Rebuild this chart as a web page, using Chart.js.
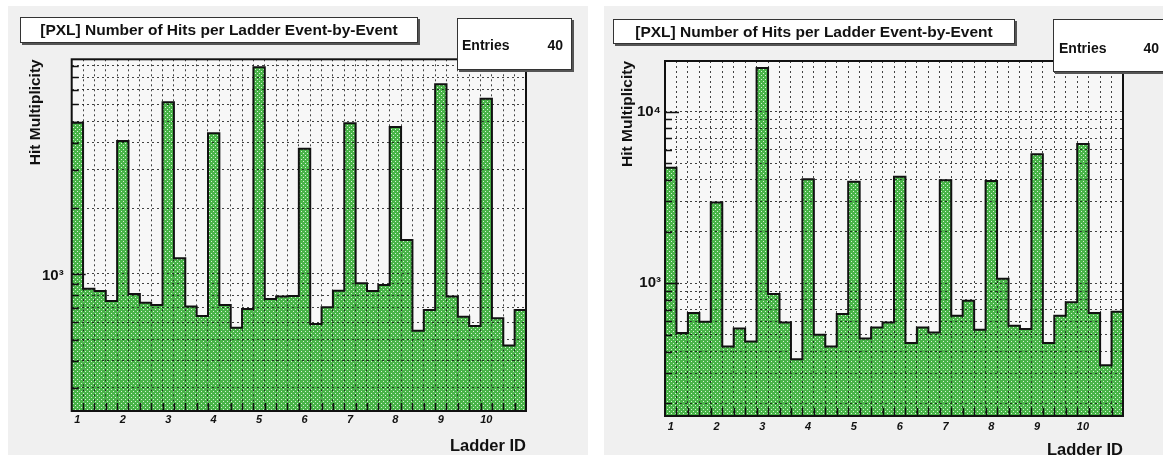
<!DOCTYPE html>
<html><head><meta charset="utf-8">
<script src="https://cdn.jsdelivr.net/npm/chart.js@4.4.0/dist/chart.umd.min.js"></script>
<style>
html,body{margin:0;padding:0;background:#fff;}
body{width:1163px;height:455px;overflow:hidden;position:relative;font-family:'Liberation Sans',Arial,Helvetica,sans-serif;}
.panel{position:absolute;background:#f0f0f0;}
.panel canvas{position:absolute;left:0;top:0;}
.tbox{position:absolute;box-sizing:border-box;background:#fff;border:1px solid #333;box-shadow:2px 2px 0 #555;font-weight:bold;color:#111;white-space:nowrap;overflow:visible;}
.title{text-align:center;font-size:15.5px;}
.stat span{position:absolute;font-size:14px;line-height:16px;}
</style></head><body>
<div class="panel" style="left:8px;top:6px;width:580px;height:449px;"><canvas id="c1" width="580" height="449"></canvas></div>
<div class="panel" style="left:604px;top:6px;width:559px;height:449px;"><canvas id="c2" width="559" height="449"></canvas></div>

<div class="tbox title" style="left:20px;top:17px;width:398px;height:26px;line-height:24px;">[PXL] Number of Hits per Ladder Event-by-Event</div>
<div class="tbox stat" style="left:457px;top:18px;width:115px;height:52px;"><span style="left:4px;top:18px;">Entries</span><span style="right:8px;top:18px;">40</span></div>

<div class="tbox title" style="left:613px;top:19px;width:402px;height:25px;line-height:23px;">[PXL] Number of Hits per Ladder Event-by-Event</div>
<div class="tbox stat" style="left:1053px;top:19px;width:115px;height:53px;"><span style="left:5px;top:20px;">Entries</span><span style="right:8px;top:20px;">40</span></div>

<script>
// ---- data ----
const ladderLabels = ['1','2','3','4','5','6','7','8','9','10'];
const binsPerLadder = 4;
const hitsLeft = [4943, 856, 836, 752, 4074, 810, 738, 721, 6133, 1181, 708, 642, 4419, 721, 567, 691,
                  8877, 768, 787, 793, 3757, 590, 704, 838, 4912, 906, 836, 890, 4724, 1432, 549, 684,
                  7417, 787, 637, 577, 6370, 626, 469, 684];
const hitsRight = [4705, 513, 671, 597, 2953, 428, 545, 458, 17940, 867, 591, 361, 4040, 501, 428, 662,
                   3897, 477, 553, 591, 4169, 448, 553, 517, 3987, 647, 792, 536, 3948, 1061, 566, 541,
                   5636, 448, 647, 774, 6474, 671, 333, 683];
const yTicksLeft = [300,400,500,600,700,800,900,1000,2000,3000,4000,5000,6000,7000,8000,9000];
const yTicksRight = [200,300,400,500,600,700,800,900,1000,2000,3000,4000,5000,6000,7000,8000,9000,10000];
const yRangeLeft = [235, 9660];
const yRangeRight = [168.5, 19720];
const tickText = {1000:'10\u00B3', 10000:'10\u2074'};

const FONT = "'Liberation Sans', Arial, Helvetica, sans-serif";
const GRID = 'rgba(20,20,20,0.8)';
const PLOT_BG = '#f7f7f7';

function isPow10(v){ const l = Math.log10(v); return Math.abs(l - Math.round(l)) < 1e-9; }

function greenPattern(ctx){
  const c = document.createElement('canvas'); c.width = 4; c.height = 4;
  const g = c.getContext('2d');
  g.fillStyle = 'rgb(72,180,72)'; g.fillRect(0,0,4,4);
  g.fillStyle = 'rgb(215,242,215)'; g.fillRect(1,1,1,1); g.fillRect(3,3,1,1);
  return ctx.createPattern(c, 'repeat');
}

const framePlugin = {
  id: 'rootFrame',
  beforeDraw(chart){
    const a = chart.chartArea, c = chart.ctx;
    c.save(); c.fillStyle = PLOT_BG; c.fillRect(a.left, a.top, a.right - a.left, a.bottom - a.top); c.restore();
  },
  afterDraw(chart){
    const a = chart.chartArea, c = chart.ctx, xs = chart.scales.x, ys = chart.scales.y;
    c.save(); c.strokeStyle = '#111'; c.lineWidth = 1.5;
    c.beginPath();
    xs.ticks.forEach(t => {
      if (Number.isInteger(t.value) && t.value > 0 && t.value < xs.max) {
        const px = Math.round(xs.getPixelForValue(t.value)) + 0.5;
        c.moveTo(px, a.bottom); c.lineTo(px, a.bottom - 8);
      }
    });
    ys.ticks.forEach(t => {
      const py = Math.round(ys.getPixelForValue(t.value)) + 0.5;
      const len = isPow10(t.value) ? 14 : 7;
      c.moveTo(a.left, py); c.lineTo(a.left + len, py);
    });
    c.stroke();
    c.lineWidth = 2;
    c.strokeRect(a.left, a.top, a.right - a.left, a.bottom - a.top);
    c.restore();
  }
};

function makeChart(id, hits, yRange, yTicks, g){
  const canvas = document.getElementById(id);
  const ctx = canvas.getContext('2d');
  const nBins = hits.length;
  const pts = hits.map((v, i) => ({x: i, y: v})).concat([{x: nBins, y: hits[nBins - 1]}]);
  return new Chart(ctx, {
    type: 'line',
    data: {datasets: [{
      data: pts, stepped: true, fill: 'start', backgroundColor: greenPattern(ctx),
      borderColor: '#111', borderWidth: 2, pointRadius: 0, tension: 0
    }]},
    options: {
      responsive: false, animation: false, devicePixelRatio: 1,
      layout: {padding: {left: g.padL, top: g.padT, right: g.padR, bottom: 0}},
      plugins: {legend: {display: false}, tooltip: {enabled: false}},
      scales: {
        x: {
          type: 'linear', min: 0, max: nBins, z: 1,
          afterBuildTicks: ax => { const t = []; for (let k = 0; k <= 2 * nBins; k++) t.push({value: k / 2}); ax.ticks = t; },
          afterFit: ax => { ax.height = g.xHeight; },
          grid: {z: 1, drawTicks: false, lineWidth: 1,
                 color: c => { const v = c.tick ? c.tick.value : null; return (v !== null && Number.isInteger(v) && v > 0 && v < nBins) ? GRID : 'rgba(0,0,0,0)'; }},
          border: {display: false, dash: [2, 3]},
          ticks: {z: 1, autoSkip: false, maxRotation: 0, minRotation: 0, padding: g.xLabelPad, color: '#111',
                  font: {family: FONT, size: 11, weight: 'bold', style: 'italic'},
                  callback: v => { const b = v - 0.5; return (Number.isInteger(b) && b % binsPerLadder === 0) ? (ladderLabels[b / binsPerLadder] || '') : ''; }},
          title: {display: true, text: 'Ladder ID', align: 'end', color: '#111',
                  font: {family: FONT, size: 16.5, weight: 'bold', lineHeight: g.xTitleLH}, padding: {top: 0, bottom: 0}}
        },
        y: {
          type: 'logarithmic', min: yRange[0], max: yRange[1], z: 1,
          afterBuildTicks: ax => { ax.ticks = yTicks.map(v => ({value: v})); },
          afterFit: ax => { ax.width = g.yWidth; },
          grid: {z: 1, drawTicks: false, color: GRID, lineWidth: 1},
          border: {display: false, dash: [2, 3]},
          ticks: {z: 1, autoSkip: false, padding: g.yLabelPad, labelOffset: g.yLabelOffset, color: '#111',
                  font: {family: FONT, size: 15, weight: 'bold'},
                  callback: v => tickText[v] || ''},
          title: {display: true, text: 'Hit Multiplicity', align: 'end', color: '#111',
                  font: {family: FONT, size: 15.5, weight: 'bold'}, padding: {top: 0, bottom: 0}}
        }
      }
    },
    plugins: [framePlugin]
  });
}

makeChart('c1', hitsLeft, yRangeLeft, yTicksLeft,
  {padL: 18, padT: 53.3, padR: 62, yWidth: 45.7, xHeight: 44, yLabelPad: 8, yLabelOffset: 2, xLabelPad: 2, xTitleLH: 1.0});
makeChart('c2', hitsRight, yRangeRight, yTicksRight,
  {padL: 14, padT: 55, padR: 40, yWidth: 47, xHeight: 39, yLabelPad: 4, yLabelOffset: 0, xLabelPad: 4, xTitleLH: 0.6});
</script>
</body></html>
